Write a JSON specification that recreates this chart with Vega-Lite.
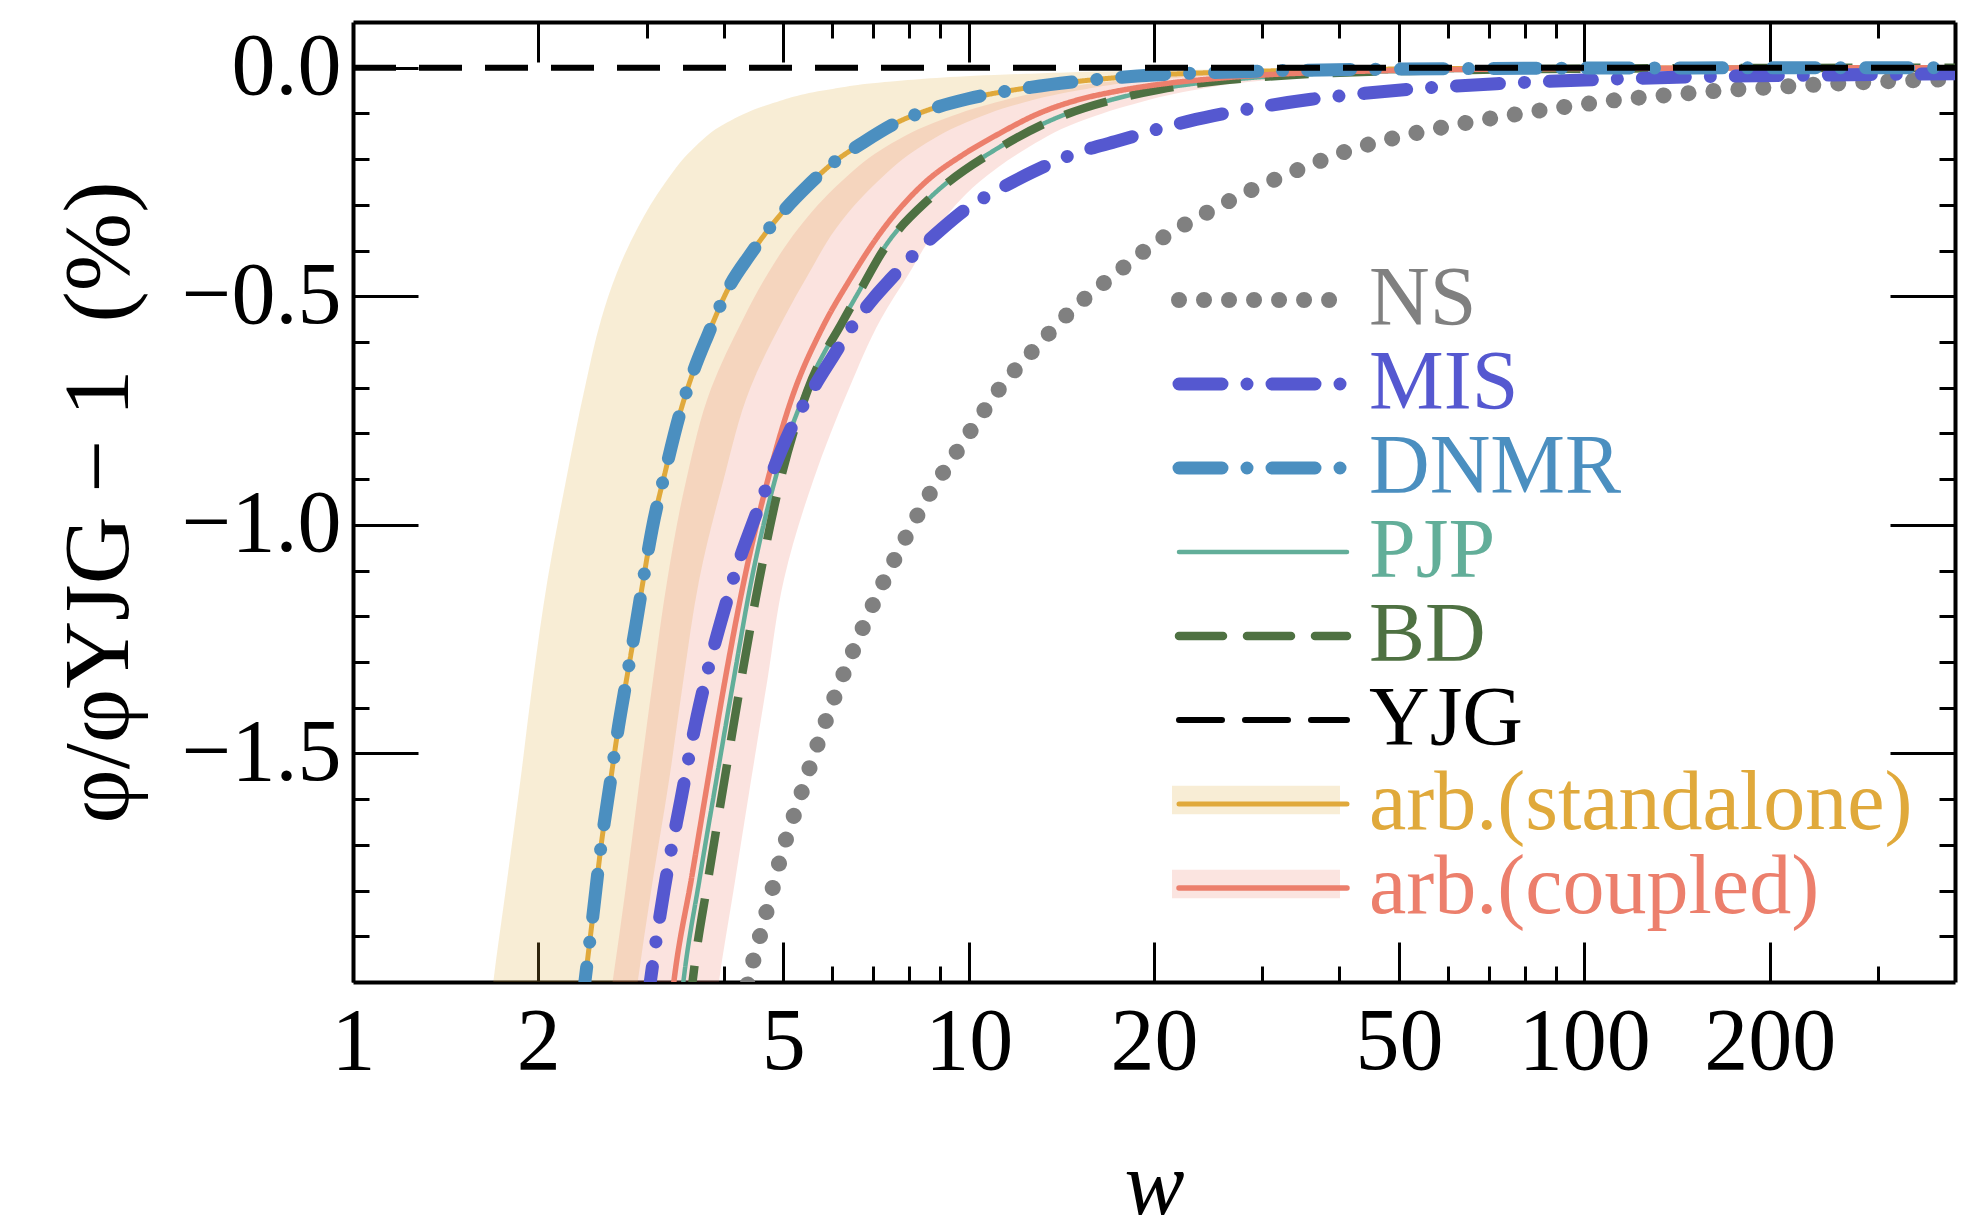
{
"$schema":"https://vega.github.io/schema/vega-lite/v6.json",
"width":1602,"height":960,
"autosize":{"type":"none"},
"padding":{"left":353,"top":22,"right":9,"bottom":248},
"background":"white",
"config":{"view":{"stroke":null},"axis":{"grid":false,"zindex":1,"domainColor":"black","tickColor":"black","labelColor":"black","titleColor":"black","tickWidth":3,"domainWidth":4,"labelFlush":false,"labelOverlap":false,"labelBound":false}},
"datasets":{
"curves":[
{"s":"NS","w":4.33,"v":-2.06},{"s":"NS","w":4.38,"v":-2.0},{"s":"NS","w":4.49,"v":-1.944},{"s":"NS","w":4.73,"v":-1.83},{"s":"NS","w":4.98,"v":-1.715},{"s":"NS","w":5.3,"v":-1.603},{"s":"NS","w":5.65,"v":-1.49},{"s":"NS","w":6.05,"v":-1.378},{"s":"NS","w":6.53,"v":-1.267},{"s":"NS","w":7.07,"v":-1.16},{"s":"NS","w":7.72,"v":-1.054},{"s":"NS","w":8.49,"v":-0.95},{"s":"NS","w":9.46,"v":-0.85},{"s":"NS","w":10.3,"v":-0.775},{"s":"NS","w":11.18,"v":-0.705},{"s":"NS","w":12.84,"v":-0.613},{"s":"NS","w":14.85,"v":-0.525},{"s":"NS","w":17.28,"v":-0.452},{"s":"NS","w":20.4,"v":-0.377},{"s":"NS","w":24.3,"v":-0.318},{"s":"NS","w":28.97,"v":-0.266},{"s":"NS","w":35.05,"v":-0.218},{"s":"NS","w":42.55,"v":-0.176},{"s":"NS","w":52,"v":-0.146},{"s":"NS","w":63.4,"v":-0.122},{"s":"NS","w":77.3,"v":-0.102},{"s":"NS","w":94.9,"v":-0.084},{"s":"NS","w":115.7,"v":-0.069},{"s":"NS","w":141.5,"v":-0.058},{"s":"NS","w":173.8,"v":-0.048},{"s":"NS","w":213,"v":-0.041},{"s":"NS","w":261,"v":-0.034},{"s":"NS","w":320,"v":-0.029},{"s":"NS","w":400,"v":-0.025},
{"s":"MIS","w":3.0,"v":-2.06},{"s":"MIS","w":3.04,"v":-2.0},{"s":"MIS","w":3.2,"v":-1.8},{"s":"MIS","w":3.41,"v":-1.6},{"s":"MIS","w":3.62,"v":-1.42},{"s":"MIS","w":3.8,"v":-1.3},{"s":"MIS","w":4.0,"v":-1.19},{"s":"MIS","w":4.21,"v":-1.09},{"s":"MIS","w":4.45,"v":-1.0},{"s":"MIS","w":4.75,"v":-0.9},{"s":"MIS","w":5.1,"v":-0.8},{"s":"MIS","w":5.6,"v":-0.7},{"s":"MIS","w":6.0,"v":-0.635},{"s":"MIS","w":6.55,"v":-0.555},{"s":"MIS","w":7.0,"v":-0.505},{"s":"MIS","w":7.5,"v":-0.46},{"s":"MIS","w":8.2,"v":-0.405},{"s":"MIS","w":9.0,"v":-0.355},{"s":"MIS","w":10.0,"v":-0.305},{"s":"MIS","w":11.0,"v":-0.272},{"s":"MIS","w":12.7,"v":-0.228},{"s":"MIS","w":15.0,"v":-0.186},{"s":"MIS","w":17.5,"v":-0.16},{"s":"MIS","w":21.1,"v":-0.128},{"s":"MIS","w":25,"v":-0.105},{"s":"MIS","w":30,"v":-0.085},{"s":"MIS","w":36,"v":-0.069},{"s":"MIS","w":44,"v":-0.056},{"s":"MIS","w":52,"v":-0.047},{"s":"MIS","w":72,"v":-0.035},{"s":"MIS","w":100,"v":-0.027},{"s":"MIS","w":150,"v":-0.02},{"s":"MIS","w":250,"v":-0.016},{"s":"MIS","w":400,"v":-0.013},
{"s":"DNMR","w":2.35,"v":-2.06},{"s":"DNMR","w":2.38,"v":-2.0},{"s":"DNMR","w":2.45,"v":-1.86},{"s":"DNMR","w":2.53,"v":-1.7},{"s":"DNMR","w":2.62,"v":-1.56},{"s":"DNMR","w":2.7,"v":-1.44},{"s":"DNMR","w":2.78,"v":-1.34},{"s":"DNMR","w":2.88,"v":-1.22},{"s":"DNMR","w":2.97,"v":-1.11},{"s":"DNMR","w":3.06,"v":-1.01},{"s":"DNMR","w":3.22,"v":-0.88},{"s":"DNMR","w":3.39,"v":-0.76},{"s":"DNMR","w":3.57,"v":-0.665},{"s":"DNMR","w":3.77,"v":-0.585},{"s":"DNMR","w":4.08,"v":-0.48},{"s":"DNMR","w":4.41,"v":-0.41},{"s":"DNMR","w":4.92,"v":-0.325},{"s":"DNMR","w":5.48,"v":-0.258},{"s":"DNMR","w":6.0,"v":-0.21},{"s":"DNMR","w":6.75,"v":-0.163},{"s":"DNMR","w":7.7,"v":-0.118},{"s":"DNMR","w":8.45,"v":-0.096},{"s":"DNMR","w":9.98,"v":-0.068},{"s":"DNMR","w":12.6,"v":-0.043},{"s":"DNMR","w":15.5,"v":-0.028},{"s":"DNMR","w":20,"v":-0.016},{"s":"DNMR","w":25,"v":-0.0105},{"s":"DNMR","w":32,"v":-0.0065},{"s":"DNMR","w":45,"v":-0.0035},{"s":"DNMR","w":70,"v":-0.0015},{"s":"DNMR","w":150,"v":-0.0004},{"s":"DNMR","w":400,"v":0},
{"s":"arb.(standalone)","w":2.35,"v":-2.06},{"s":"arb.(standalone)","w":2.38,"v":-2.0},{"s":"arb.(standalone)","w":2.45,"v":-1.86},{"s":"arb.(standalone)","w":2.53,"v":-1.7},{"s":"arb.(standalone)","w":2.62,"v":-1.56},{"s":"arb.(standalone)","w":2.7,"v":-1.44},{"s":"arb.(standalone)","w":2.78,"v":-1.34},{"s":"arb.(standalone)","w":2.88,"v":-1.22},{"s":"arb.(standalone)","w":2.97,"v":-1.11},{"s":"arb.(standalone)","w":3.06,"v":-1.01},{"s":"arb.(standalone)","w":3.22,"v":-0.88},{"s":"arb.(standalone)","w":3.39,"v":-0.76},{"s":"arb.(standalone)","w":3.57,"v":-0.665},{"s":"arb.(standalone)","w":3.77,"v":-0.585},{"s":"arb.(standalone)","w":4.08,"v":-0.48},{"s":"arb.(standalone)","w":4.41,"v":-0.41},{"s":"arb.(standalone)","w":4.92,"v":-0.325},{"s":"arb.(standalone)","w":5.48,"v":-0.258},{"s":"arb.(standalone)","w":6.0,"v":-0.21},{"s":"arb.(standalone)","w":6.75,"v":-0.163},{"s":"arb.(standalone)","w":7.7,"v":-0.118},{"s":"arb.(standalone)","w":8.45,"v":-0.096},{"s":"arb.(standalone)","w":9.98,"v":-0.068},{"s":"arb.(standalone)","w":12.6,"v":-0.043},{"s":"arb.(standalone)","w":15.5,"v":-0.028},{"s":"arb.(standalone)","w":20,"v":-0.016},{"s":"arb.(standalone)","w":25,"v":-0.0105},{"s":"arb.(standalone)","w":32,"v":-0.0065},{"s":"arb.(standalone)","w":45,"v":-0.0035},{"s":"arb.(standalone)","w":70,"v":-0.0015},{"s":"arb.(standalone)","w":150,"v":-0.0004},{"s":"arb.(standalone)","w":400,"v":0},
{"s":"PJP","w":3.4,"v":-2.06},{"s":"PJP","w":3.44,"v":-2.0},{"s":"PJP","w":3.66,"v":-1.77},{"s":"PJP","w":3.89,"v":-1.56},{"s":"PJP","w":4.15,"v":-1.34},{"s":"PJP","w":4.44,"v":-1.12},{"s":"PJP","w":4.85,"v":-0.9},{"s":"PJP","w":5.44,"v":-0.707},{"s":"PJP","w":6.23,"v":-0.554},{"s":"PJP","w":6.63,"v":-0.49},{"s":"PJP","w":7.24,"v":-0.4},{"s":"PJP","w":8.72,"v":-0.28},{"s":"PJP","w":11.18,"v":-0.175},{"s":"PJP","w":14.35,"v":-0.102},{"s":"PJP","w":17.3,"v":-0.068},{"s":"PJP","w":20.5,"v":-0.046},{"s":"PJP","w":25,"v":-0.03},{"s":"PJP","w":31.7,"v":-0.018},{"s":"PJP","w":40,"v":-0.011},{"s":"PJP","w":52,"v":-0.007},{"s":"PJP","w":72,"v":-0.004},{"s":"PJP","w":120,"v":-0.0015},{"s":"PJP","w":400,"v":0},
{"s":"BD","w":3.52,"v":-2.06},{"s":"BD","w":3.56,"v":-2.0},{"s":"BD","w":3.78,"v":-1.77},{"s":"BD","w":4.01,"v":-1.56},{"s":"BD","w":4.27,"v":-1.34},{"s":"BD","w":4.57,"v":-1.12},{"s":"BD","w":4.95,"v":-0.9},{"s":"BD","w":5.47,"v":-0.707},{"s":"BD","w":6.25,"v":-0.554},{"s":"BD","w":6.65,"v":-0.49},{"s":"BD","w":7.26,"v":-0.4},{"s":"BD","w":8.74,"v":-0.28},{"s":"BD","w":11.2,"v":-0.176},{"s":"BD","w":14.35,"v":-0.103},{"s":"BD","w":17.3,"v":-0.069},{"s":"BD","w":20.5,"v":-0.047},{"s":"BD","w":25,"v":-0.03},{"s":"BD","w":31.7,"v":-0.018},{"s":"BD","w":40,"v":-0.011},{"s":"BD","w":52,"v":-0.007},{"s":"BD","w":72,"v":-0.004},{"s":"BD","w":120,"v":-0.0015},{"s":"BD","w":400,"v":0},
{"s":"arb.(coupled)","w":3.28,"v":-2.06},{"s":"arb.(coupled)","w":3.32,"v":-2.0},{"s":"arb.(coupled)","w":3.55,"v":-1.77},{"s":"arb.(coupled)","w":3.77,"v":-1.56},{"s":"arb.(coupled)","w":4.02,"v":-1.34},{"s":"arb.(coupled)","w":4.32,"v":-1.12},{"s":"arb.(coupled)","w":4.7,"v":-0.91},{"s":"arb.(coupled)","w":5.17,"v":-0.72},{"s":"arb.(coupled)","w":5.78,"v":-0.57},{"s":"arb.(coupled)","w":6.39,"v":-0.467},{"s":"arb.(coupled)","w":7.2,"v":-0.36},{"s":"arb.(coupled)","w":8.51,"v":-0.25},{"s":"arb.(coupled)","w":9.8,"v":-0.19},{"s":"arb.(coupled)","w":11.18,"v":-0.145},{"s":"arb.(coupled)","w":13,"v":-0.1},{"s":"arb.(coupled)","w":15.08,"v":-0.07},{"s":"arb.(coupled)","w":17.3,"v":-0.052},{"s":"arb.(coupled)","w":20,"v":-0.038},{"s":"arb.(coupled)","w":25,"v":-0.024},{"s":"arb.(coupled)","w":30,"v":-0.016},{"s":"arb.(coupled)","w":40,"v":-0.009},{"s":"arb.(coupled)","w":55,"v":-0.005},{"s":"arb.(coupled)","w":80,"v":-0.0025},{"s":"arb.(coupled)","w":150,"v":-0.001},{"s":"arb.(coupled)","w":400,"v":0},
{"s":"YJG","w":1,"v":0},{"s":"YJG","w":400,"v":0}
],
"bands":[
{"band":"arb.(standalone)","v":-2.06,"wlo":1.67,"whi":2.86},{"band":"arb.(standalone)","v":-2.0,"wlo":1.69,"whi":2.9},{"band":"arb.(standalone)","v":-1.8,"wlo":1.77,"whi":3.05},{"band":"arb.(standalone)","v":-1.56,"wlo":1.87,"whi":3.26},{"band":"arb.(standalone)","v":-1.34,"wlo":1.96,"whi":3.44},{"band":"arb.(standalone)","v":-1.12,"wlo":2.07,"whi":3.65},{"band":"arb.(standalone)","v":-0.9,"wlo":2.22,"whi":4.0},{"band":"arb.(standalone)","v":-0.7,"wlo":2.38,"whi":4.42},{"band":"arb.(standalone)","v":-0.55,"wlo":2.53,"whi":5.0},{"band":"arb.(standalone)","v":-0.45,"wlo":2.68,"whi":5.5},{"band":"arb.(standalone)","v":-0.35,"wlo":2.9,"whi":6.1},{"band":"arb.(standalone)","v":-0.25,"wlo":3.22,"whi":7.1},{"band":"arb.(standalone)","v":-0.18,"wlo":3.55,"whi":8.2},{"band":"arb.(standalone)","v":-0.12,"wlo":4.05,"whi":9.9},{"band":"arb.(standalone)","v":-0.08,"wlo":4.75,"whi":12},{"band":"arb.(standalone)","v":-0.05,"wlo":5.8,"whi":15},{"band":"arb.(standalone)","v":-0.03,"wlo":7.5,"whi":19},{"band":"arb.(standalone)","v":-0.015,"wlo":11.5,"whi":27},{"band":"arb.(standalone)","v":-0.007,"wlo":18,"whi":40},{"band":"arb.(standalone)","v":-0.003,"wlo":28,"whi":60},
{"band":"arb.(coupled)","v":-2.06,"wlo":2.6,"whi":3.88},{"band":"arb.(coupled)","v":-2.0,"wlo":2.64,"whi":3.93},{"band":"arb.(coupled)","v":-1.8,"wlo":2.77,"whi":4.15},{"band":"arb.(coupled)","v":-1.56,"wlo":2.92,"whi":4.43},{"band":"arb.(coupled)","v":-1.34,"wlo":3.07,"whi":4.71},{"band":"arb.(coupled)","v":-1.12,"wlo":3.24,"whi":5.01},{"band":"arb.(coupled)","v":-0.9,"wlo":3.48,"whi":5.6},{"band":"arb.(coupled)","v":-0.7,"wlo":3.82,"whi":6.4},{"band":"arb.(coupled)","v":-0.55,"wlo":4.3,"whi":7.2},{"band":"arb.(coupled)","v":-0.45,"wlo":4.72,"whi":8.0},{"band":"arb.(coupled)","v":-0.35,"wlo":5.3,"whi":8.9},{"band":"arb.(coupled)","v":-0.25,"wlo":6.2,"whi":10.4},{"band":"arb.(coupled)","v":-0.18,"wlo":7.2,"whi":12.3},{"band":"arb.(coupled)","v":-0.12,"wlo":8.8,"whi":15},{"band":"arb.(coupled)","v":-0.08,"wlo":10.8,"whi":18.5},{"band":"arb.(coupled)","v":-0.05,"wlo":13.5,"whi":23},{"band":"arb.(coupled)","v":-0.03,"wlo":17,"whi":29},{"band":"arb.(coupled)","v":-0.015,"wlo":24,"whi":40},{"band":"arb.(coupled)","v":-0.007,"wlo":34,"whi":56},{"band":"arb.(coupled)","v":-0.003,"wlo":50,"whi":80}
]},
"layer":[
{"data":{"name":"bands"},"transform":[{"filter":"datum.band==='arb.(standalone)'"}],
 "mark":{"type":"area","orient":"horizontal","fillOpacity":0.21,"clip":true,"interpolate":"monotone"},
 "encoding":{
  "y":{"field":"v","type":"quantitative","scale":{"domain":[-2,0.1],"nice":false,"zero":false},"axis":{"orient":"left","values":[0,-0.5,-1,-1.5],"format":".1f","tickSize":-65,"domain":true,"labels":true,"labelFont":"Liberation Serif","labelFontSize":88,"labelPadding":77,"title":"φ/φYJG\u00a0−\u00a01\u00a0\u00a0(%)","titleFont":"Liberation Serif","titleFontSize":94,"titleFontWeight":"normal","titlePadding":34}},
  "x":{"field":"wlo","type":"quantitative","scale":{"type":"log","domain":[1,400],"nice":false},"axis":{"orient":"bottom","values":[1,2,5,10,20,50,100,200],"format":"d","tickSize":-40,"domain":true,"labels":true,"labelFont":"Liberation Serif","labelFontSize":88,"labelPadding":56,"title":"w","titleFont":"Liberation Serif","titleFontSize":90,"titleFontStyle":"italic","titleFontWeight":"normal","titlePadding":56}},
  "x2":{"field":"whi"},
  "fill":{"field":"band","type":"nominal","scale":{"domain":["arb.(standalone)","arb.(coupled)"],"range":["#E0A93B","#EC7F6C"]},"legend":{"orient":"none","legendX":818,"legendY":738,"title":null,"padding":0,"clipHeight":80,"symbolType":"M-1,-0.17L1,-0.17L1,0.17L-1,0.17Z","symbolSize":28224,"symbolOpacity":0.21,"labelExpr":"' '","labelFont":"Liberation Serif","labelFontSize":84,"labelOffset":14,"labelOpacity":0,"labelLimit":1000,"rowPadding":0}}
 }},
{"data":{"name":"bands"},"transform":[{"filter":"datum.band==='arb.(coupled)'"}],
 "mark":{"type":"area","orient":"horizontal","fillOpacity":0.22,"clip":true,"interpolate":"monotone"},
 "encoding":{
  "y":{"field":"v","type":"quantitative","axis":{"orient":"left","values":[-0.1,-0.2,-0.3,-0.4,-0.6,-0.7,-0.8,-0.9,-1.1,-1.2,-1.3,-1.4,-1.6,-1.7,-1.8,-1.9],"tickSize":-16,"domain":false,"labels":false,"title":null}},
  "x":{"field":"wlo","type":"quantitative","axis":{"orient":"bottom","values":[3,4,6,7,8,9,30,40,60,70,80,90,300],"tickSize":-16,"domain":false,"labels":false,"title":null}},
  "x2":{"field":"whi"},
  "fill":{"field":"band","type":"nominal"}
 }},
{"data":{"name":"curves"},"transform":[{"filter":"indexof(['PJP','BD','arb.(standalone)','arb.(coupled)'], datum.s) >= 0"}],
 "mark":{"type":"line","clip":true,"interpolate":"monotone","strokeCap":"butt"},
 "encoding":{
  "x":{"field":"w","type":"quantitative","axis":{"orient":"top","values":[2,5,10,20,50,100,200],"tickSize":-40,"domain":true,"labels":false,"title":null}},
  "y":{"field":"v","type":"quantitative","axis":{"orient":"right","values":[0,-0.5,-1,-1.5],"tickSize":-65,"domain":true,"labels":false,"title":null}},
  "color":{"field":"s","type":"nominal","scale":{"domain":["NS","MIS","DNMR","PJP","BD","YJG","arb.(standalone)","arb.(coupled)"],"range":["#808080","#5558D0","#4B8FC0","#62AE99","#4E7142","#000000","#E0A93B","#EC7F6C"]},"legend":{"orient":"none","legendX":818,"legendY":238,"title":null,"padding":0,"clipHeight":80,"symbolType":"stroke","symbolSize":28224,"labelFont":"Liberation Serif","labelFontSize":84,"labelOffset":14,"labelLimit":1000,"rowPadding":0,"encoding":{"labels":{"fill":{"value":{"expr":"scale('color', datum.value)"}}},"symbols":{"strokeCap":{"value":"round"},"strokeDash":{"value":{"expr":"scale('strokeDash', datum.value)"}},"strokeWidth":{"value":{"expr":"scale('strokeWidth', datum.value)"}}}}}},
  "strokeDash":{"field":"s","type":"nominal","scale":{"domain":["NS","MIS","DNMR","PJP","BD","YJG","arb.(standalone)","arb.(coupled)"],"range":[[0.01,25],[43,25,0.01,25],[43,25,0.01,25],[1,0],[44,24],[43,23],[1,0],[1,0]]},"legend":null},
  "strokeWidth":{"field":"s","type":"nominal","scale":{"type":"ordinal","domain":["NS","MIS","DNMR","PJP","BD","YJG","arb.(standalone)","arb.(coupled)"],"range":[16,13,13,4.5,8.5,6,5,5.5]},"legend":null}
 }},
{"data":{"name":"curves"},"transform":[{"filter":"indexof(['NS','MIS','DNMR'], datum.s) >= 0"}],
 "mark":{"type":"line","clip":true,"interpolate":"monotone","strokeCap":"round"},
 "encoding":{
  "x":{"field":"w","type":"quantitative","axis":{"orient":"top","values":[3,4,6,7,8,9,30,40,60,70,80,90,300],"tickSize":-16,"domain":false,"labels":false,"title":null}},
  "y":{"field":"v","type":"quantitative","axis":{"orient":"right","values":[-0.1,-0.2,-0.3,-0.4,-0.6,-0.7,-0.8,-0.9,-1.1,-1.2,-1.3,-1.4,-1.6,-1.7,-1.8,-1.9],"tickSize":-16,"domain":false,"labels":false,"title":null}},
  "color":{"field":"s","type":"nominal"},
  "strokeDash":{"field":"s","type":"nominal","scale":{"domain":["NS","MIS","DNMR","PJP","BD","YJG","arb.(standalone)","arb.(coupled)"],"range":[[0.01,25],[43,25,0.01,25],[43,25,0.01,25],[1,0],[44,24],[43,23],[1,0],[1,0]]},"legend":null},
  "strokeWidth":{"field":"s","type":"nominal","scale":{"type":"ordinal","domain":["NS","MIS","DNMR","PJP","BD","YJG","arb.(standalone)","arb.(coupled)"],"range":[16,13,13,4.5,8.5,6,5,5.5]},"legend":null}
 }},
{"data":{"name":"curves"},"transform":[{"filter":"datum.s==='YJG'"}],
 "mark":{"type":"line","clip":true,"strokeCap":"butt"},
 "encoding":{
  "x":{"field":"w","type":"quantitative","axis":null},
  "y":{"field":"v","type":"quantitative","axis":null},
  "color":{"field":"s","type":"nominal"},
  "strokeDash":{"field":"s","type":"nominal","scale":{"domain":["NS","MIS","DNMR","PJP","BD","YJG","arb.(standalone)","arb.(coupled)"],"range":[[0.01,25],[43,25,0.01,25],[43,25,0.01,25],[1,0],[44,24],[43,23],[1,0],[1,0]]},"legend":null},
  "strokeWidth":{"field":"s","type":"nominal","scale":{"type":"ordinal","domain":["NS","MIS","DNMR","PJP","BD","YJG","arb.(standalone)","arb.(coupled)"],"range":[16,13,13,4.5,8.5,6,5,5.5]},"legend":null}
 }}
],
"resolve":{"axis":{"x":"independent","y":"independent"}}
}
